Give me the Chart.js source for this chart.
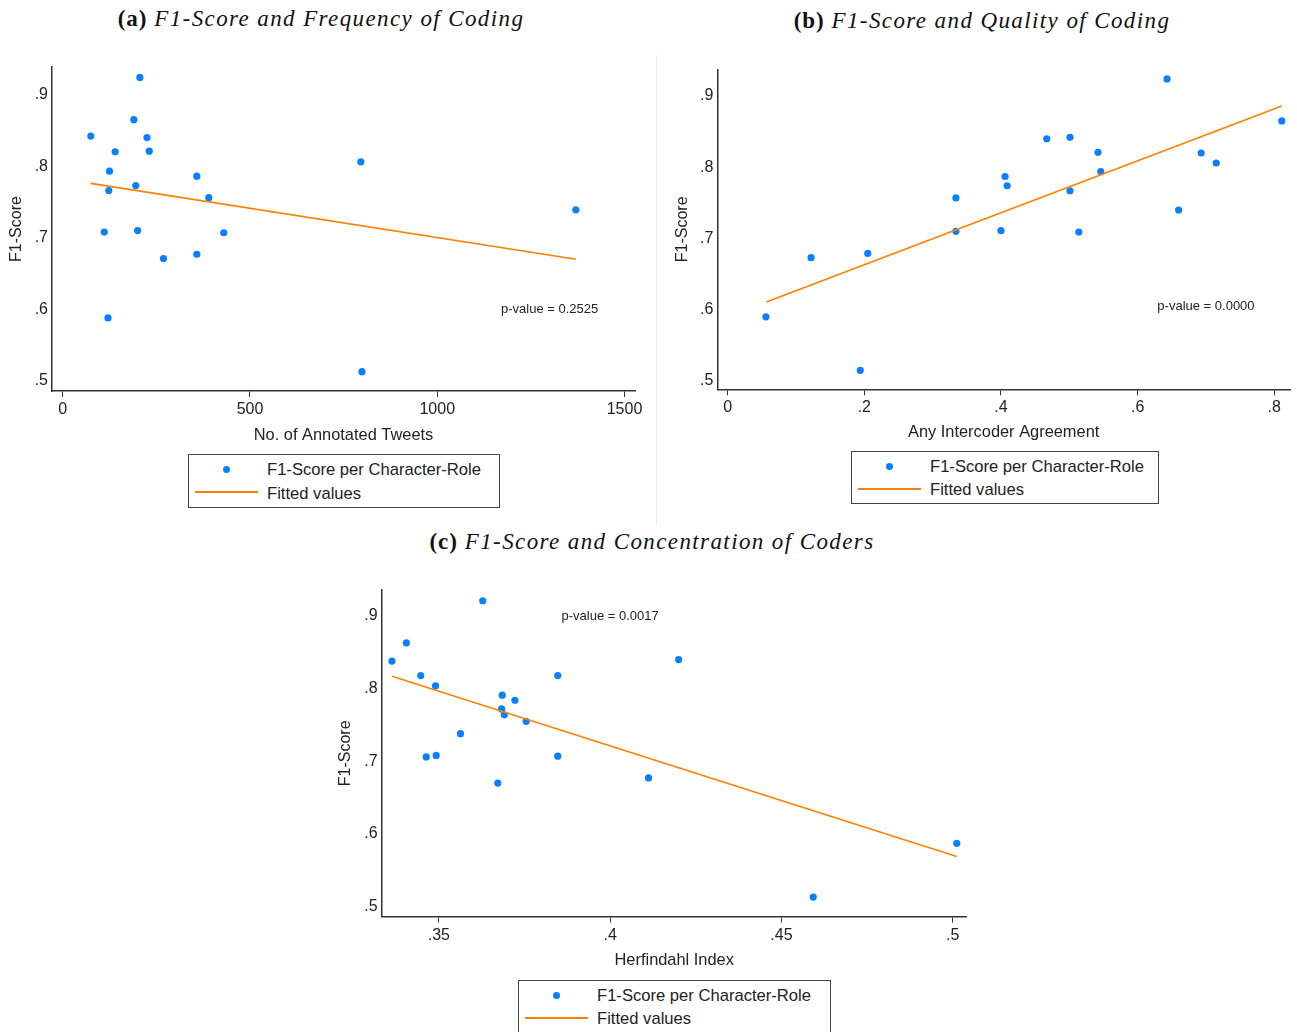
<!DOCTYPE html>
<html>
<head>
<meta charset="utf-8">
<script src="https://cdn.jsdelivr.net/npm/chart.js@4.4.1/dist/chart.umd.min.js"></script>
<style>
  body { margin: 0; background: #fff; width: 1297px; height: 1032px; position: relative; overflow: hidden;
         font-family: "Liberation Sans", Arial, sans-serif; color: #222; }
  canvas { position: absolute; }
  .panel-title { position: absolute; transform: translate(-50%, -50%); white-space: nowrap;
                 font-family: "Liberation Serif", serif; font-size: 23px; letter-spacing: 1px; color: #111; }
  .panel-title i { letter-spacing: 1.4px; }
  .divider { position: absolute; left: 656px; top: 55px; width: 1px; height: 470px; background: #eee; }
  .legend { position: absolute; border: 1.5px solid #444; box-sizing: border-box; font-size: 16.6px; }
  .legend .dot { position: absolute; left: 34px; top: 11px; width: 7px; height: 7px; border-radius: 50%; background: #0a80ff; }
  .legend .ln { position: absolute; left: 6px; top: 36px; width: 63px; height: 2px; background: #ff8000; }
  .legend span { position: absolute; left: 78px; line-height: 20px; white-space: nowrap; }
</style>
</head>
<body>
<div class="panel-title" style="left:321px; top:19px;"><b>(a)</b> <i>F1-Score and Frequency of Coding</i></div>
<div class="panel-title" style="left:982px; top:21px;"><b>(b)</b> <i>F1-Score and Quality of Coding</i></div>
<div class="panel-title" style="left:652px; top:542px;"><b>(c)</b> <i>F1-Score and Concentration of Coders</i></div>
<div class="divider"></div>

<canvas id="chartA" width="650" height="400" style="left:0; top:50px;"></canvas>
<canvas id="chartB" width="637" height="400" style="left:660px; top:50px;"></canvas>
<canvas id="chartC" width="650" height="402" style="left:330px; top:570px;"></canvas>

<div class="legend" style="left:188px; top:454px; width:312px; height:54px;">
  <div class="dot"></div><span style="top:5px;">F1-Score per Character-Role</span>
  <div class="ln"></div><span style="top:29px;">Fitted values</span>
</div>
<div class="legend" style="left:851px; top:451px; width:308px; height:53px;">
  <div class="dot"></div><span style="top:5px;">F1-Score per Character-Role</span>
  <div class="ln"></div><span style="top:28px;">Fitted values</span>
</div>
<div class="legend" style="left:518px; top:980px; width:313px; height:60px;">
  <div class="dot"></div><span style="top:5px;">F1-Score per Character-Role</span>
  <div class="ln"></div><span style="top:28px;">Fitted values</span>
</div>

<script>
const COLORS = {
  point: '#0a80ff',
  fit: '#ff8000',
  axis: '#333',
  text: '#222',
};
const FONT = '"Liberation Sans", Arial, sans-serif';

const yTicks = [0.5, 0.6, 0.7, 0.8, 0.9];
const yLabels = ['.5', '.6', '.7', '.8', '.9'];

// (a) F1 vs number of annotated tweets
const tweets = [75, 206, 190, 225, 140, 231, 125, 195, 123, 358, 390, 111, 200, 430, 269, 358, 121, 796, 799, 1370];
const f1Tweets = [0.842, 0.924, 0.865, 0.840, 0.820, 0.821, 0.793, 0.773, 0.766, 0.786, 0.756, 0.708, 0.710, 0.707, 0.671, 0.677, 0.588, 0.806, 0.513, 0.739];
const tweetsFitX = [75, 1370];
const tweetsFitY = [0.776, 0.670];
const tweetsTicks = [0, 500, 1000, 1500];
const tweetsLabels = ['0', '500', '1000', '1500'];

// (b) F1 vs intercoder agreement
const agreement = [0.056, 0.122, 0.205, 0.194, 0.334, 0.334, 0.400, 0.406, 0.409, 0.467, 0.501, 0.542, 0.546, 0.501, 0.514, 0.643, 0.660, 0.693, 0.715, 0.811];
const f1Agreement = [0.590, 0.673, 0.679, 0.515, 0.757, 0.710, 0.711, 0.787, 0.774, 0.840, 0.842, 0.821, 0.794, 0.767, 0.709, 0.924, 0.740, 0.820, 0.806, 0.865];
const agreementFitX = [0.0565, 0.811];
const agreementFitY = [0.611, 0.886];
const agreementTicks = [0, 0.2, 0.4, 0.6, 0.8];
const agreementLabels = ['0', '.2', '.4', '.6', '.8'];

// (c) F1 vs Herfindahl index
const herfindahl = [0.3363, 0.3405, 0.3447, 0.3490, 0.3628, 0.3563, 0.3463, 0.3492, 0.3685, 0.3722, 0.3683, 0.3691, 0.3755, 0.3847, 0.3847, 0.3672, 0.4112, 0.4200, 0.4593, 0.5012];
const f1Herfindahl = [0.838, 0.863, 0.818, 0.804, 0.921, 0.738, 0.706, 0.708, 0.791, 0.784, 0.772, 0.764, 0.755, 0.818, 0.707, 0.670, 0.677, 0.840, 0.513, 0.587];
const herfFitX = [0.3363, 0.5012];
const herfFitY = [0.817, 0.569];
const herfTicks = [0.35, 0.4, 0.45, 0.5];
const herfLabels = ['.35', '.4', '.45', '.5'];

const pValueLabel = {
  id: 'pValueLabel',
  afterDatasetsDraw(chart, args, opts) {
    const { ctx, scales } = chart;
    ctx.save();
    ctx.font = '13px ' + FONT;
    ctx.fillStyle = COLORS.text;
    ctx.textAlign = 'center';
    ctx.textBaseline = 'middle';
    ctx.fillText(opts.text, scales.x.getPixelForValue(opts.x), scales.y.getPixelForValue(opts.y));
    ctx.restore();
  },
};

function scatterChart(id, o) {
  const ctx = document.getElementById(id).getContext('2d');
  return new Chart(ctx, {
    data: {
      datasets: [
        {
          type: 'line',
          label: 'Fitted values',
          data: o.fitX.map((x, i) => ({ x, y: o.fitY[i] })),
          borderColor: COLORS.fit,
          borderWidth: 1.6,
          pointRadius: 0,
          fill: false,
        },
        {
          type: 'scatter',
          label: 'F1-Score per Character-Role',
          data: o.x.map((x, i) => ({ x, y: o.y[i] })),
          backgroundColor: COLORS.point,
          borderWidth: 0,
          pointRadius: 3.6,
        },
      ],
    },
    plugins: [pValueLabel],
    options: {
      responsive: false,
      animation: false,
      devicePixelRatio: 1,
      layout: { autoPadding: false, padding: { left: 0, right: o.padR, top: o.padT, bottom: 0 } },
      plugins: {
        legend: { display: false },
        tooltip: { enabled: false },
        pValueLabel: o.pValue,
      },
      scales: {
        x: {
          type: 'linear',
          min: o.xMin,
          max: o.xMax,
          afterBuildTicks: (s) => { s.ticks = o.xTicks.map((v) => ({ value: v })); },
          afterFit: (s) => { s.height = o.xH; },
          ticks: {
            autoSkip: false,
            maxRotation: 0,
            padding: 3,
            color: COLORS.text,
            font: { family: FONT, size: 16 },
            callback: (v, i) => o.xLabels[i],
          },
          grid: { display: true, drawOnChartArea: false, drawTicks: true, tickLength: 6, color: COLORS.axis, lineWidth: 1 },
          border: { display: true, color: COLORS.axis, width: 1.5 },
          title: { display: true, text: o.xTitle, color: COLORS.text, font: { family: FONT, size: 16.4 }, padding: { top: 0, bottom: o.xTitlePad } },
        },
        y: {
          type: 'linear',
          min: o.yMin,
          max: o.yMax,
          afterBuildTicks: (s) => { s.ticks = yTicks.map((v) => ({ value: v })); },
          afterFit: (s) => { s.width = o.yW; },
          ticks: {
            autoSkip: false,
            padding: 4,
            color: COLORS.text,
            font: { family: FONT, size: 16 },
            callback: (v, i) => yLabels[i],
          },
          grid: { display: true, drawOnChartArea: false, drawTicks: false },
          border: { display: true, color: COLORS.axis, width: 1.5 },
          title: { display: true, text: 'F1-Score', color: COLORS.text, font: { family: FONT, size: 16 }, padding: { top: o.yTitlePad, bottom: 0 } },
        },
      },
    },
  });
}

scatterChart('chartA', {
  x: tweets, y: f1Tweets, fitX: tweetsFitX, fitY: tweetsFitY,
  xTicks: tweetsTicks, xLabels: tweetsLabels, xMin: -28.6, xMax: 1528,
  yMin: 0.486, yMax: 0.9385,
  xTitle: 'No. of Annotated Tweets',
  pValue: { text: 'p-value = 0.2525', x: 1300, y: 0.6 },
  padR: 15, padT: 17, yW: 52, xH: 59, xTitlePad: 4.4, yTitlePad: 7.4,
});

scatterChart('chartB', {
  x: agreement, y: f1Agreement, fitX: agreementFitX, fitY: agreementFitY,
  xTicks: agreementTicks, xLabels: agreementLabels, xMin: -0.0152, xMax: 0.823,
  yMin: 0.4883, yMax: 0.9375,
  xTitle: 'Any Intercoder Agreement',
  pValue: { text: 'p-value = 0.0000', x: 0.700, y: 0.604 },
  padR: 7, padT: 19.3, yW: 57.3, xH: 60.7, xTitlePad: 7.4, yTitlePad: 13.4,
});

scatterChart('chartC', {
  x: herfindahl, y: f1Herfindahl, fitX: herfFitX, fitY: herfFitY,
  xTicks: herfTicks, xLabels: herfLabels, xMin: 0.3333, xMax: 0.5041,
  yMin: 0.486, yMax: 0.9358,
  xTitle: 'Herfindahl Index',
  pValue: { text: 'p-value = 0.0017', x: 0.4, y: 0.9 },
  padR: 13.3, padT: 20, yW: 51.7, xH: 55.3, xTitlePad: 1.4, yTitlePad: 6.4,
});
</script>
</body>
</html>
